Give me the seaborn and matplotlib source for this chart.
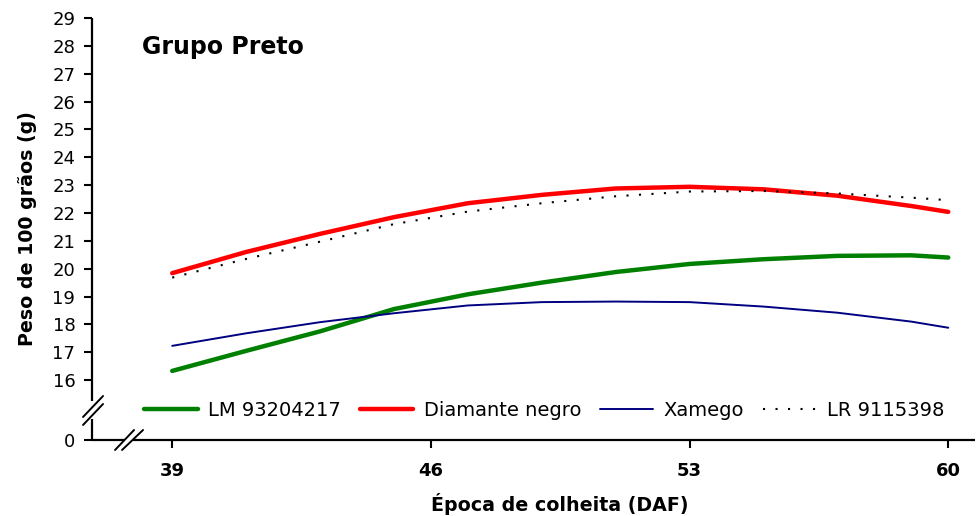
import matplotlib
matplotlib.use("Agg")
import matplotlib.pyplot as plt
import seaborn as sns
import pandas as pd

# Harvest time (days after flowering) and fitted 100-grain weight per cultivar
days = [39, 41, 43, 45, 47, 49, 51, 53, 55, 57, 59, 60]
lm_93204217 = [16.33, 17.05, 17.75, 18.55, 19.08, 19.50, 19.88, 20.17, 20.34, 20.46, 20.48, 20.40]
diamante_negro = [19.84, 20.60, 21.25, 21.85, 22.35, 22.65, 22.88, 22.94, 22.85, 22.62, 22.25, 22.04]
xamego = [17.23, 17.68, 18.08, 18.40, 18.68, 18.80, 18.82, 18.80, 18.64, 18.42, 18.10, 17.88]
lr_9115398 = [19.68, 20.35, 20.97, 21.60, 22.05, 22.35, 22.60, 22.77, 22.79, 22.70, 22.55, 22.46]

series_names = ["LM 93204217", "Diamante negro", "Xamego", "LR 9115398"]
x_ticks = [39, 46, 53, 60]
y_ticks = list(range(16, 30))

df = pd.DataFrame({
    "DAF": days * 4,
    "peso": lm_93204217 + diamante_negro + xamego + lr_9115398,
    "cultivar": sum([[n] * len(days) for n in series_names], []),
})

sns.set_style("ticks")
plt.rcParams["font.family"] = ["DejaVu Sans"]
plt.rcParams.update({
    "text.color": "black", "axes.labelcolor": "black",
    "xtick.color": "black", "ytick.color": "black",
})

fig = plt.figure(figsize=(9.77, 5.16), dpi=100)
ax = fig.add_axes([0.0942, 0.1473, 0.904, 0.8178])

styles = {
    "LM 93204217": dict(color="#008000", lw=3.2, ls="-"),
    "Diamante negro": dict(color="#FF0000", lw=3.2, ls="-"),
    "Xamego": dict(color="#000080", lw=1.4, ls="-"),
    "LR 9115398": dict(color="black", lw=1.5, ls=(0, (1, 5))),
}
for name in series_names:
    st = styles[name]
    sns.lineplot(data=df[df["cultivar"] == name], x="DAF", y="peso", ax=ax,
                 color=st["color"], linewidth=st["lw"], linestyle=st["ls"],
                 label=name, solid_capstyle="round")

y_zero = 13.85  # position of the "0" tick below the axis break
ax.set_xlim(36.83, 60.73)
ax.set_ylim(y_zero, 29)
ax.set_xticks(x_ticks)
ax.set_xticklabels([str(t) for t in x_ticks], fontsize=13, fontweight="bold")
ax.set_yticks([y_zero] + y_ticks)
ax.set_yticklabels(["0"] + [str(t) for t in y_ticks], fontsize=13)
ax.tick_params(axis="both", direction="out", length=6, width=1.5, colors="black")
ax.tick_params(axis="x", pad=10)
ax.tick_params(axis="y", pad=6)

ax.set_xlabel("Época de colheita (DAF)", fontsize=13.7, fontweight="bold")
ax.xaxis.set_label_coords(0.53, -0.125)
ax.set_ylabel("Peso de 100 grãos (g)", fontsize=13.7, fontweight="bold", labelpad=11)

# Axis lines drawn by hand so each can carry a break
for s in ["left", "bottom", "top", "right"]:
    ax.spines[s].set_visible(False)
tr = ax.transAxes
kw = dict(color="black", lw=1.6, transform=tr, clip_on=False, solid_capstyle="butt")
# y axis with gap
ax.plot([0, 0], [1, 1 - (401 - 18) / 422], **kw)
ax.plot([0, 0], [1 - (419 - 18) / 422, 0], **kw)
# x axis with gap
ax.plot([0, (125 - 92) / 883], [0, 0], **kw)
ax.plot([(133 - 92) / 883, 1], [0, 0], **kw)


def to_ax(px, py):
    return ((px - 92) / 883, 1 - (py - 18) / 422)


for (x0, y0, x1, y1) in [(83, 417, 103, 396), (83, 425, 103, 404),
                         (115, 450, 134, 430), (122, 450, 143, 430)]:
    a = to_ax(x0, y0)
    b = to_ax(x1, y1)
    ax.plot([a[0], b[0]], [a[1], b[1]], color="black", lw=1.4,
            transform=tr, clip_on=False)

ax.text(0.057, 0.932, "Grupo Preto", transform=tr, fontsize=17,
        fontweight="bold", ha="left", va="center")

ax.legend(loc="center", bbox_to_anchor=(0.512, 0.071), ncol=4, frameon=False,
          fontsize=14, handlelength=2.75, handletextpad=0.55, columnspacing=0.95,
          borderaxespad=0)

fig.savefig("out.png", dpi=100)
